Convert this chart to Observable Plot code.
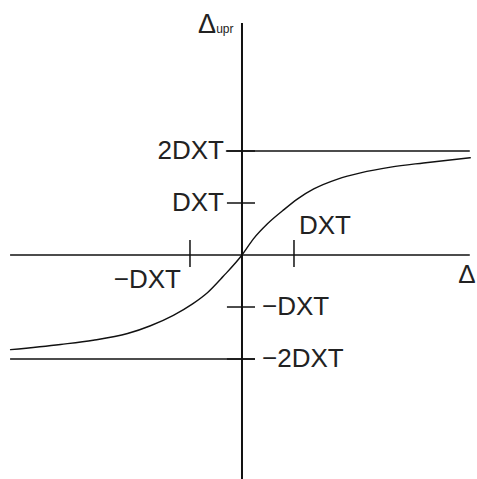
<!DOCTYPE html>
<html>
<head>
<meta charset="utf-8">
<script src="https://cdn.jsdelivr.net/npm/d3@7"></script>
<script src="https://cdn.jsdelivr.net/npm/@observablehq/plot@0.6"></script>
<style>
  html, body { margin: 0; padding: 0; background: #fff; }
  #chart svg { display: block; }
</style>
</head>
<body>
<div id="chart"></div>
<script>
// Transfer characteristic: Δupr as a function of Δ, saturating at ±2·DXT
const curveX = [-4.45, -3.49, -2.86, -2.20, -1.76, -1.32, -0.95, -0.66, -0.36, 0,
                0.22, 0.49, 0.78, 1.07, 1.38, 1.84, 2.28, 2.86, 3.49, 4.39];
const curveY = [-1.82, -1.72, -1.64, -1.51, -1.36, -1.16, -0.94, -0.72, -0.41, 0,
                0.31, 0.60, 0.85, 1.08, 1.27, 1.46, 1.58, 1.69, 1.77, 1.87];

// Vertical-axis ticks (in units of DXT) and their labels
const yTicks = [2, 1, -1, -2];
const yTickLabels = ["2DXT", "DXT", "−DXT", "−2DXT"];

// Horizontal-axis ticks and labels
const xTicks = [-1, 1];
const xTickLabels = ["−DXT", "DXT"];

// Saturation levels
const limits = [2, -2];

const curve = curveX.map((x, i) => ({x, y: curveY[i]}));
const yTickData = yTicks.map((v, i) => ({v, label: yTickLabels[i]}));
const xTickData = xTicks.map((v, i) => ({v, label: xTickLabels[i]}));

const font = "Liberation Sans, Arial, sans-serif";
const ink = "#111";
const textInk = "#222";

const chart = Plot.plot({
  width: 477,
  height: 479,
  marginTop: 0, marginRight: 0, marginBottom: 0, marginLeft: 0,
  style: {fontFamily: font, background: "#fff"},
  x: {domain: [-4.644, 4.529], axis: null},
  y: {domain: [-4.317, 4.894], axis: null},
  marks: [
    // axes
    Plot.ruleY([0], {x1: -4.45, x2: 4.39, stroke: ink, strokeWidth: 1.6}),
    Plot.ruleX([0], {y1: -4.4, y2: 4.45, stroke: ink, strokeWidth: 2}),
    // saturation lines: +2DXT to the right, −2DXT to the left
    Plot.ruleY(limits.slice(0, 1), {x1: -0.3, x2: 4.39, stroke: ink, strokeWidth: 1.5}),
    Plot.ruleY(limits.slice(1), {x1: -4.45, x2: 0.26, stroke: ink, strokeWidth: 1.5}),
    // tick marks
    Plot.ruleY(yTickData, {y: "v", x1: -0.28, x2: 0.26, stroke: ink, strokeWidth: 1.5}),
    Plot.ruleX(xTickData, {x: "v", y1: -0.24, y2: 0.28, stroke: ink, strokeWidth: 1.5}),
    // the characteristic curve
    Plot.line(curve, {x: "x", y: "y", curve: "monotone-x", stroke: ink, strokeWidth: 1.4}),
    // vertical tick labels: positive on the left, negative on the right
    Plot.text(yTickData.filter(d => d.v > 0), {
      x: 0, y: "v", text: "label", textAnchor: "end", dx: -18,
      fontSize: 26, fill: textInk, style: {letterSpacing: "0.5px"}
    }),
    Plot.text(yTickData.filter(d => d.v < 0), {
      x: 0, y: "v", text: "label", textAnchor: "start", dx: 20,
      fontSize: 26, fill: textInk, style: {letterSpacing: "0.5px"}
    }),
    // horizontal tick labels
    Plot.text(xTickData.filter(d => d.v < 0), {
      x: "v", y: 0, text: "label", textAnchor: "end", dx: -9, dy: 25,
      fontSize: 26, fill: textInk, style: {letterSpacing: "0.5px"}
    }),
    Plot.text(xTickData.filter(d => d.v > 0), {
      x: "v", y: 0, text: "label", textAnchor: "start", dx: 5, dy: -29,
      fontSize: 26, fill: textInk, style: {letterSpacing: "0.5px"}
    })
  ]
});

// Axis names: Δupr at the top of the vertical axis, Δ at the end of the horizontal one
const svg = d3.select(chart);
const xs = chart.scale("x"), ys = chart.scale("y");
const yName = svg.append("text")
  .attr("x", xs.apply(0) - 8).attr("y", 33)
  .attr("text-anchor", "end")
  .attr("font-family", font).attr("fill", textInk);
yName.append("tspan").attr("font-size", 27).text("Δ");
yName.append("tspan").attr("font-size", 12).text("upr");

svg.append("text")
  .attr("x", 467).attr("y", ys.apply(0) + 28)
  .attr("font-family", font).attr("font-size", 26).attr("fill", textInk)
  .text("Δ");

document.getElementById("chart").append(chart);
</script>
</body>
</html>
